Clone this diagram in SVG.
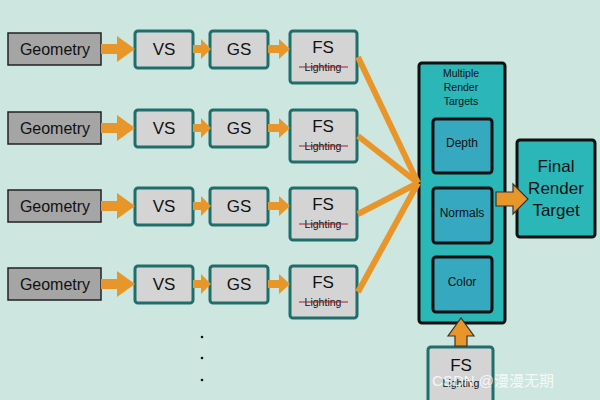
<svg xmlns="http://www.w3.org/2000/svg" width="600" height="400" viewBox="0 0 600 400">
<defs>
<style>
text{font-family:"Liberation Sans",Arial,sans-serif;fill:#111;text-anchor:middle}
.geo{fill:#a5a5a5;stroke:#222;stroke-width:1.5}
.sh{fill:#d4d4d4;stroke:#1f6e6b;stroke-width:3}
.big{font-size:17px}
.med{font-size:16px}
.lt{font-size:10.5px}
.strike{stroke:#b01818;stroke-width:1.2}
.arr{fill:#e8962a}
.fan{stroke:#e8962a;stroke-width:6;fill:none}
.tgt{fill:#2bb6b8;stroke:#111;stroke-width:3}
.buf{fill:#36a8c0;stroke:#111;stroke-width:3}
</style>
</defs>
<rect width="600" height="400" fill="#cee6e0"/>

<g id="row1">
<g id="geo1"><rect class="geo" x="8" y="33" width="93" height="32"/><text class="med" x="55" y="55">Geometry</text></g>
<g id="vs1"><rect class="sh" x="135" y="31" width="58" height="37" rx="3"/><text class="big" x="164" y="55">VS</text></g>
<g id="gs1"><rect class="sh" x="210" y="31" width="58" height="37" rx="3"/><text class="big" x="239" y="55">GS</text></g>
<g id="fs1"><rect class="sh" x="290" y="31" width="67" height="52" rx="3"/><text class="big" x="323" y="53">FS</text><text class="lt" x="323" y="71">Lighting</text><line class="strike" x1="299" y1="67" x2="348" y2="67"/></g>
</g>

<g id="row2" transform="translate(0,79)">
<g id="geo2"><rect class="geo" x="8" y="33" width="93" height="32"/><text class="med" x="55" y="55">Geometry</text></g>
<g id="vs2"><rect class="sh" x="135" y="31" width="58" height="37" rx="3"/><text class="big" x="164" y="55">VS</text></g>
<g id="gs2"><rect class="sh" x="210" y="31" width="58" height="37" rx="3"/><text class="big" x="239" y="55">GS</text></g>
<g id="fs2"><rect class="sh" x="290" y="31" width="67" height="52" rx="3"/><text class="big" x="323" y="53">FS</text><text class="lt" x="323" y="71">Lighting</text><line class="strike" x1="299" y1="67" x2="348" y2="67"/></g>
</g>

<g id="row3" transform="translate(0,157)">
<g id="geo3"><rect class="geo" x="8" y="33" width="93" height="32"/><text class="med" x="55" y="55">Geometry</text></g>
<g id="vs3"><rect class="sh" x="135" y="31" width="58" height="37" rx="3"/><text class="big" x="164" y="55">VS</text></g>
<g id="gs3"><rect class="sh" x="210" y="31" width="58" height="37" rx="3"/><text class="big" x="239" y="55">GS</text></g>
<g id="fs3"><rect class="sh" x="290" y="31" width="67" height="52" rx="3"/><text class="big" x="323" y="53">FS</text><text class="lt" x="323" y="71">Lighting</text><line class="strike" x1="299" y1="67" x2="348" y2="67"/></g>
</g>

<g id="row4" transform="translate(0,235)">
<g id="geo4"><rect class="geo" x="8" y="33" width="93" height="32"/><text class="med" x="55" y="55">Geometry</text></g>
<g id="vs4"><rect class="sh" x="135" y="31" width="58" height="37" rx="3"/><text class="big" x="164" y="55">VS</text></g>
<g id="gs4"><rect class="sh" x="210" y="31" width="58" height="37" rx="3"/><text class="big" x="239" y="55">GS</text></g>
<g id="fs4"><rect class="sh" x="290" y="31" width="67" height="52" rx="3"/><text class="big" x="323" y="53">FS</text><text class="lt" x="323" y="71">Lighting</text><line class="strike" x1="299" y1="67" x2="348" y2="67"/></g>
</g>

<g id="dots" fill="#111">
<circle cx="202" cy="337" r="1.3"/><circle cx="202" cy="358" r="1.3"/><circle cx="202" cy="380" r="1.3"/>
</g>

<g id="mrt">
<rect class="tgt" x="419" y="63" width="86" height="260" rx="3"/>
<text class="lt" x="461" y="77">Multiple</text>
<text class="lt" x="461" y="91">Render</text>
<text class="lt" x="461" y="105">Targets</text>
</g>
<g id="depth"><rect class="buf" x="433" y="119" width="59" height="54" rx="3"/><text x="462" y="147" font-size="12">Depth</text></g>
<g id="normals"><rect class="buf" x="433" y="188" width="59" height="55" rx="3"/><text x="462" y="217" font-size="12">Normals</text></g>
<g id="color"><rect class="buf" x="433" y="257" width="59" height="55" rx="3"/><text x="462" y="286" font-size="12">Color</text></g>

<g id="final">
<rect class="tgt" x="517" y="140" width="78" height="97" rx="3"/>
<text class="big" x="556" y="172">Final</text>
<text class="big" x="556" y="194">Render</text>
<text class="big" x="556" y="216">Target</text>
</g>

<g id="fs5">
<rect class="sh" x="428" y="347" width="65" height="60" rx="3"/>
<text class="big" x="461" y="371">FS</text>
<text class="lt" x="461" y="387">Lighting</text>
</g>

<g id="connectors">
<g id="row-arrows">
<path class="arr" d="M101 44h16v-8l18 13l-18 13v-8h-16z"/>
<path class="arr" d="M193 45h8v-6l10 10l-10 10v-6h-8z"/>
<path class="arr" d="M268 45h11v-6l11 10l-11 10v-6h-11z"/>
<path class="arr" transform="translate(0,79)" d="M101 44h16v-8l18 13l-18 13v-8h-16z"/>
<path class="arr" transform="translate(0,79)" d="M193 45h8v-6l10 10l-10 10v-6h-8z"/>
<path class="arr" transform="translate(0,79)" d="M268 45h11v-6l11 10l-11 10v-6h-11z"/>
<path class="arr" transform="translate(0,157)" d="M101 44h16v-8l18 13l-18 13v-8h-16z"/>
<path class="arr" transform="translate(0,157)" d="M193 45h8v-6l10 10l-10 10v-6h-8z"/>
<path class="arr" transform="translate(0,157)" d="M268 45h11v-6l11 10l-11 10v-6h-11z"/>
<path class="arr" transform="translate(0,235)" d="M101 44h16v-8l18 13l-18 13v-8h-16z"/>
<path class="arr" transform="translate(0,235)" d="M193 45h8v-6l10 10l-10 10v-6h-8z"/>
<path class="arr" transform="translate(0,235)" d="M268 45h11v-6l11 10l-11 10v-6h-11z"/>
</g>
<g id="fan">
<line class="fan" x1="358" y1="57" x2="418" y2="183"/>
<line class="fan" x1="358" y1="136" x2="418" y2="183"/>
<line class="fan" x1="358" y1="214" x2="418" y2="183"/>
<line class="fan" x1="358" y1="292" x2="418" y2="183"/>
</g>
<path class="arr" stroke="#333" stroke-width="1.2" d="M496 192h17v-8l15 15l-15 15v-8h-17z"/>
<path class="arr" stroke="#333" stroke-width="1.2" d="M455 346v-10h-7l13 -18l13 18h-7v10z"/>
</g>

<text x="493" y="386" font-size="15" style="fill:#ffffff;fill-opacity:0.8;font-family:'Liberation Sans','Noto Sans CJK SC',sans-serif">CSDN @漫漫无期</text>
</svg>
